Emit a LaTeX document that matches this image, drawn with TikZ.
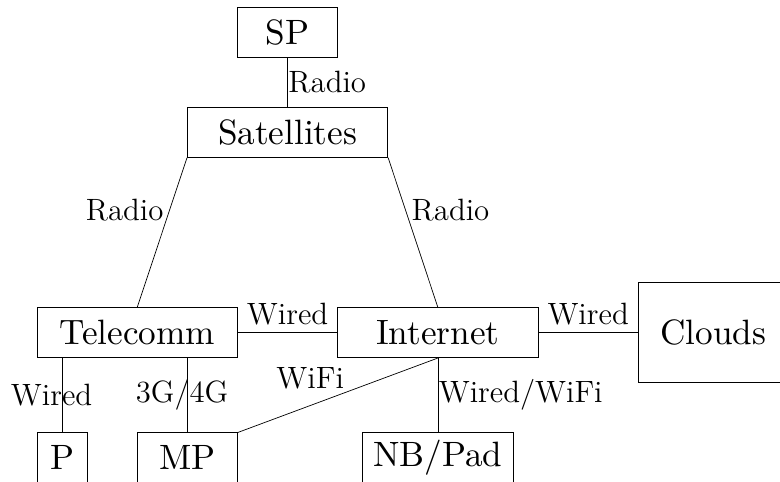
\documentclass[tikz,border=0pt]{standalone}
\usepackage{fontspec}
\newfontfamily\boxfont{lmroman10-regular.otf}
\newfontfamily\lblfont{lmroman12-regular.otf}
\usetikzlibrary{positioning}
\begin{document}
\begin{tikzpicture}[
  box/.style={draw, minimum height=1cm, inner sep=0pt, font=\boxfont\fontsize{20}{24}\selectfont},
  lbl/.style={font=\lblfont\fontsize{17.5}{21}\selectfont},
  ]
  \useasboundingbox (-0.74,0.14) rectangle (14.83,-9.48);

  % boxes
  \node[box, minimum width=2cm] (sp) at (5,-0.5) {SP};
  \node[box, minimum width=4cm] (sat) at (5,-2.5) {Satellites};
  \node[box, minimum width=4cm] (tel) at (2,-6.5) {Telecomm};
  \node[box, minimum width=4cm] (inet) at (8,-6.5) {Internet};
  \node[box, minimum width=3cm, minimum height=2cm] (cloud) at (13.5,-6.5) {Clouds};
  \node[box, minimum width=1cm] (p) at (0.5,-9) {P};
  \node[box, minimum width=2cm] (mp) at (3,-9) {MP};
  \node[box, minimum width=3cm] (nb) at (8,-9) {NB/Pad};

  % links
  \draw (sp) -- node[lbl, right, xshift=-3pt] {Radio} (sat);
  \draw (sat.south west) -- node[lbl, left, pos=0.35] {Radio} (tel.north);
  \draw (sat.south east) -- node[lbl, right, pos=0.35] {Radio} (inet.north);
  \draw (tel) -- node[lbl, above, yshift=1pt] {Wired} (inet);
  \draw (inet) -- node[lbl, above, yshift=1pt] {Wired} (cloud);
  \draw (p.north |- tel.south) -- node[lbl, xshift=-6pt] {Wired} (p);
  \draw (mp.north |- tel.south) -- node[lbl, xshift=-3pt] {3G/4G} (mp);
  \draw (inet.south) -- node[lbl, above left, xshift=7pt] {WiFi} (mp.north east);
  \draw (inet.south) -- node[lbl, right, xshift=-3pt] {Wired/WiFi} (nb);
\end{tikzpicture}
\end{document}
